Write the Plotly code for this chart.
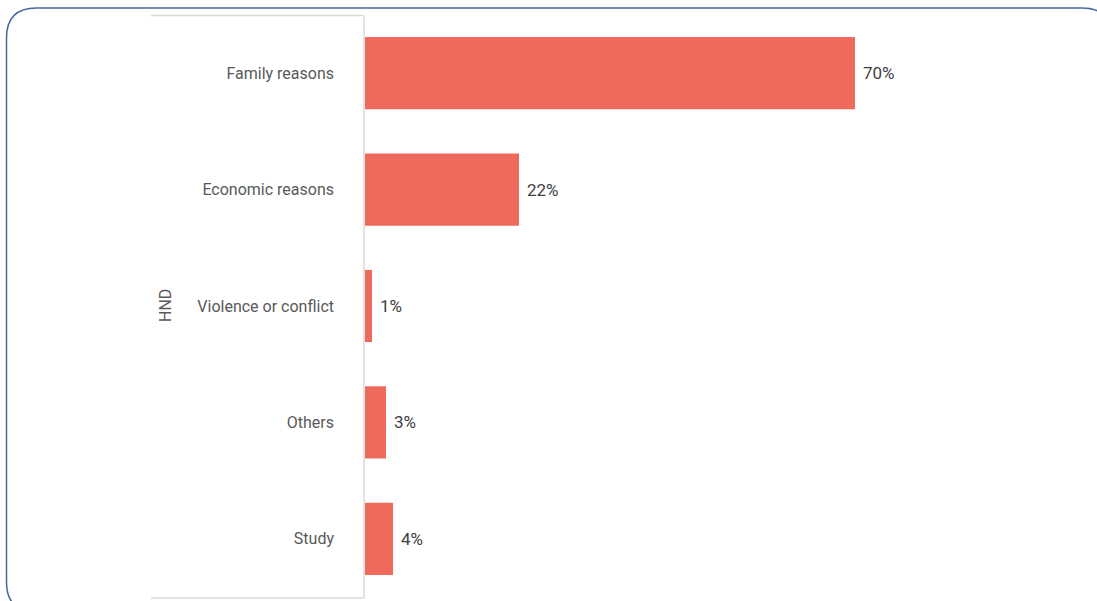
import plotly.graph_objects as go

# Reasons for migration, share of respondents (%)
categories = ["Family reasons", "Economic reasons", "Violence or conflict", "Others", "Study"]
shares = [70, 22, 1, 3, 4]
group_label = "HND"

W, H = 1097, 601
L, R, T, B = 365, 32, 15, 4
PW, PH = W - L - R, H - T - B

BAR = "#EF6A5D"
TXT = "#595959"
FONT = "Roboto"


def px_x(px):
    return (px - L) / PW


def px_y(py):
    return (H - B - py) / PH


fig = go.Figure(
    go.Bar(
        x=shares,
        y=categories,
        orientation="h",
        marker=dict(color=BAR, line=dict(width=0)),
        hoverinfo="skip",
    )
)

# value labels just past each bar end
for c, v in zip(categories, shares):
    fig.add_annotation(
        x=v, y=c, xref="x", yref="y", text=f"{v}%", showarrow=False,
        xanchor="left", xshift=6, font=dict(family=FONT, size=17, color="#404040"),
    )

# rotated group label
fig.add_annotation(
    x=px_x(165), y=0.5, xref="paper", yref="paper", text=group_label,
    xanchor="center", yanchor="middle",
    textangle=-90, showarrow=False, font=dict(family=FONT, size=16, color=TXT),
)

# light frame around the category labels
grey = dict(color="#D9D9D9", width=1.5)
fig.add_shape(type="line", xref="paper", yref="paper",
              x0=px_x(151), x1=px_x(364), y0=px_y(15.5), y1=px_y(15.5), line=grey)
fig.add_shape(type="line", xref="paper", yref="paper",
              x0=px_x(364), x1=px_x(364), y0=px_y(15.5), y1=px_y(598), line=grey)
fig.add_shape(type="line", xref="paper", yref="paper",
              x0=px_x(151), x1=px_x(364), y0=px_y(598), y1=px_y(598), line=grey)

# rounded outer border
x0, y0, x1, y1, r = 6.5, 8, 1112, 612, 30
pts = [
    ("M", x0 + r, y0), ("L", x1 - r, y0), ("Q", x1, y0, x1, y0 + r),
    ("L", x1, y1 - r), ("Q", x1, y1, x1 - r, y1), ("L", x0 + r, y1),
    ("Q", x0, y1, x0, y1 - r), ("L", x0, y0 + r), ("Q", x0, y0, x0 + r, y0),
]
path = ""
for p in pts:
    cmd, coords = p[0], p[1:]
    conv = []
    for i in range(0, len(coords), 2):
        conv.append(f"{px_x(coords[i]):.5f},{px_y(coords[i + 1]):.5f}")
    path += cmd + " " + " ".join(conv) + " "
fig.add_shape(type="path", xref="paper", yref="paper", path=path + "Z",
              line=dict(color="#41699E", width=1.5))

fig.update_layout(
    width=W, height=H,
    margin=dict(l=L, r=R, t=T, b=B, pad=0),
    paper_bgcolor="white", plot_bgcolor="white",
    bargap=0.38, showlegend=False,
    font=dict(family=FONT, size=16, color=TXT),
    xaxis=dict(range=[0, 100], visible=False, fixedrange=True),
    yaxis=dict(
        autorange="reversed", showgrid=False, zeroline=False, showline=False,
        ticks="", ticklabelstandoff=30,
        tickfont=dict(family=FONT, size=16, color=TXT),
    ),
)

fig.write_html("out.html")
